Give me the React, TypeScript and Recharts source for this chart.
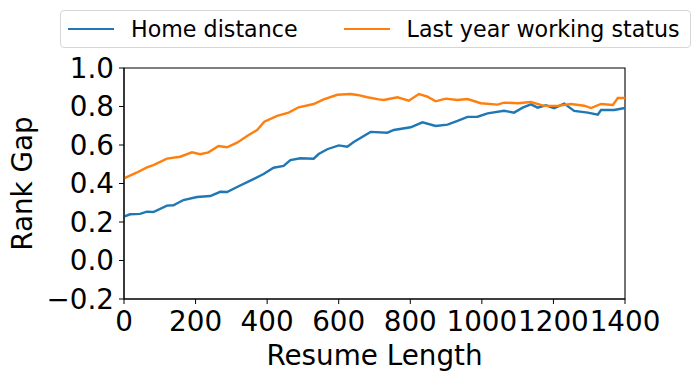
import React from "react";
import { LineChart, Line, XAxis, YAxis, Legend, ReferenceArea } from "recharts";

const FONT = "'DejaVu Sans', sans-serif";
const BLUE = "#1f77b4";
const ORANGE = "#ff7f0e";

// Home distance
const homeX = [0, 17, 45, 64, 82, 120, 138, 166, 204, 241, 269, 288, 316, 353, 390, 418, 446, 465, 493, 530, 544, 568, 600, 624, 642, 689, 736, 754, 801, 834, 871, 904, 932, 960, 988, 1016, 1062, 1090, 1114, 1137, 1156, 1179, 1202, 1230, 1258, 1296, 1324, 1333, 1370, 1400];
const homeY = [0.228, 0.240, 0.242, 0.254, 0.252, 0.285, 0.287, 0.314, 0.330, 0.335, 0.357, 0.356, 0.382, 0.415, 0.449, 0.482, 0.491, 0.522, 0.531, 0.529, 0.553, 0.578, 0.598, 0.591, 0.616, 0.668, 0.664, 0.678, 0.692, 0.718, 0.699, 0.706, 0.725, 0.746, 0.747, 0.764, 0.778, 0.768, 0.794, 0.811, 0.794, 0.806, 0.791, 0.815, 0.777, 0.768, 0.757, 0.782, 0.782, 0.792];

// Last year working status
const statusX = [0, 35, 64, 82, 120, 157, 190, 213, 236, 264, 288, 316, 344, 372, 392, 428, 460, 488, 530, 558, 596, 633, 652, 680, 712, 726, 764, 796, 824, 848, 871, 899, 932, 960, 997, 1044, 1062, 1100, 1137, 1174, 1212, 1249, 1286, 1305, 1333, 1366, 1380, 1400];
const statusY = [0.427, 0.456, 0.484, 0.496, 0.529, 0.539, 0.562, 0.552, 0.562, 0.595, 0.588, 0.612, 0.647, 0.678, 0.721, 0.751, 0.768, 0.796, 0.813, 0.837, 0.861, 0.865, 0.860, 0.848, 0.837, 0.834, 0.848, 0.830, 0.865, 0.851, 0.827, 0.841, 0.834, 0.839, 0.817, 0.810, 0.820, 0.817, 0.823, 0.803, 0.803, 0.813, 0.804, 0.792, 0.813, 0.808, 0.844, 0.844];

const xTicks = [0, 200, 400, 600, 800, 1000, 1200, 1400];
const yTicks = [-0.2, 0, 0.2, 0.4, 0.6, 0.8, 1.0];

const homeData = homeX.map((x, i) => ({ x, y: homeY[i] }));
const statusData = statusX.map((x, i) => ({ x, y: statusY[i] }));

const fmtY = (v: number) => (v < 0 ? "\u2212" + Math.abs(v).toFixed(1) : v.toFixed(1));

function LegendBox({ payload }: any) {
  return (
    <div
      style={{
        boxSizing: "border-box",
        width: "100%",
        height: "100%",
        border: "1px solid #d6d6d6",
        borderRadius: 4,
        background: "#fff",
        display: "flex",
        alignItems: "center",
        paddingLeft: 7,
        fontFamily: FONT,
        fontSize: 22.2,
        color: "#000",
      }}
    >
      {(payload || []).map((p: any, i: number) => (
        <div key={i} style={{ display: "flex", alignItems: "center", marginLeft: i === 0 ? 0 : 46 }}>
          <div style={{ width: 46, height: 2.6, background: p.color }} />
          <span style={{ marginLeft: 17, whiteSpace: "nowrap" }}>{p.value}</span>
        </div>
      ))}
    </div>
  );
}

export default function App() {
  const tickStyle = { fontFamily: FONT, fontSize: 27.8, fill: "#000" };
  return (
    <div style={{ position: "absolute", left: 0, top: 0, background: "#fff" }}>
      <LineChart width={698} height={381} margin={{ top: 30, right: 73, bottom: 0, left: 0 }}>
        <XAxis
          type="number"
          dataKey="x"
          domain={[0, 1400]}
          ticks={xTicks}
          interval={0}
          allowDataOverflow
          height={82}
          tickSize={5}
          tickMargin={7}
          tick={tickStyle}
          stroke="#000"
          tickLine={{ stroke: "#000" }}
          label={({ viewBox }: any) => (
            <text
              x={viewBox.x + viewBox.width / 2}
              y={viewBox.y + 66}
              textAnchor="middle"
              style={{ fontFamily: FONT, fontSize: 27.8, fill: "#000" }}
            >
              Resume Length
            </text>
          )}
        />
        <YAxis
          type="number"
          domain={[-0.2, 1.0]}
          ticks={yTicks}
          interval={0}
          allowDataOverflow
          width={124}
          tickSize={5}
          tickMargin={5}
          tick={tickStyle}
          tickFormatter={fmtY}
          stroke="#000"
          tickLine={{ stroke: "#000" }}
          label={({ viewBox }: any) => {
            const cy = viewBox.y + viewBox.height / 2;
            return (
              <text
                x={31.5}
                y={cy}
                transform={`rotate(-90 31.5 ${cy})`}
                textAnchor="middle"
                style={{ fontFamily: FONT, fontSize: 27.8, fill: "#000" }}
              >
                Rank Gap
              </text>
            );
          }}
        />
        <ReferenceArea x1={0} x2={1400} y1={-0.2} y2={1.0} fill="none" stroke="#000" strokeWidth={1.1} ifOverflow="visible" />
        <Line
          data={homeData}
          dataKey="y"
          name="Home distance"
          type="linear"
          stroke={BLUE}
          strokeWidth={2.4}
          dot={false}
          isAnimationActive={false}
        />
        <Line
          data={statusData}
          dataKey="y"
          name="Last year working status"
          type="linear"
          stroke={ORANGE}
          strokeWidth={2.4}
          dot={false}
          isAnimationActive={false}
        />
        <Legend
          verticalAlign="top"
          content={<LegendBox />}
          wrapperStyle={{ top: 10, left: 60, width: 631, height: 38 }}
        />
      </LineChart>
    </div>
  );
}
